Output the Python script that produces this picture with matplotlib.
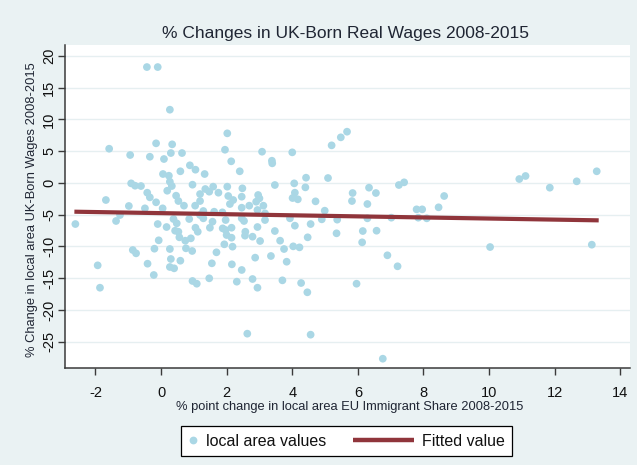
import matplotlib
matplotlib.use("Agg")
import matplotlib.pyplot as plt
from matplotlib.lines import Line2D
from matplotlib.legend_handler import HandlerBase

# ---------------- data ----------------
title = "% Changes in UK-Born Real Wages 2008-2015"
xlabel = "% point change in local area EU Immigrant Share 2008-2015"
ylabel = "% Change in local area UK-Born Wages 2008-2015"
legend_labels = ["local area values", "Fitted value"]
xticks = [-2, 0, 2, 4, 6, 8, 10, 12, 14]
yticks = [-25, -20, -15, -10, -5, 0, 5, 10, 15, 20]

eu_share_change = [
    -0.43, -0.10, 0.27, -1.58, -0.94, -0.15, 0.34, -0.34, 0.09, 0.30, 0.64, 2.02, 1.95, 2.14,
    2.40, 0.88, 1.05, 0.59, 1.33, 0.06, 0.24, 0.27, 0.33, 0.19, -0.91, -0.79, -0.61, -0.42,
    -0.34, -0.15, -1.68, -0.98, -0.49, 0.05, 0.46, 0.53, 0.70, 0.96, 1.04, 1.19, 1.19, 1.35,
    1.59, 1.75, 1.47, 2.02, 2.48, 2.05, 2.20, 2.10, 2.46, 2.69,
    3.08, 4.00, 3.38, 3.39, 5.20, 5.48, 5.67, 3.47, 4.06, 4.42, 4.40, 5.09, 4.08, 4.01, 4.17,
    4.71, 2.96, 3.00, 2.90, 3.12, 5.84, 5.82, 6.34, 6.55, 6.29, 7.25, 7.41, 7.79, 7.96, 8.46,
    8.63, 4.99,
    10.92, 11.11, 11.85, 12.67, 13.28,
    1.29, 1.62, 1.87, 2.46, -2.61, -1.37, -1.25, 0.38, 0.86, 0.48, -0.10, 1.19, 1.29, 1.57,
    1.97, 2.46, 2.53, 0.17, 1.05, 1.12, 1.49, 1.88, 1.97, 2.15, 0.43, 0.53, 2.00, 2.15, 2.57,
    2.56, 0.56, 0.91, 0.74, -0.07, 2.79, -0.20, 0.27, 0.76, 0.95, -0.86, -0.76, 1.69, 1.93,
    2.18, 2.87, -0.41, 0.30, 0.59, 1.55, 2.16, 2.46, 0.27, 0.40, -0.22, 0.96, 1.09, 1.47,
    2.31, 2.79, -1.86, -1.93, 2.63,
    2.94, 3.17, 3.17, 2.94, 3.02, 2.94, 3.47, 3.63, 3.75, 3.35, 3.83, 4.03, 4.22, 3.70, 4.27,
    4.46, 4.56, 3.93, 4.08, 4.56, 4.47, 4.90, 5.37, 5.35, 5.96, 6.15, 6.13, 6.29, 6.57, 6.90,
    7.21, 7.02, 6.76, 7.84, 8.10,
    10.03, 13.13,
]
wage_change = [
    18.23, 18.23, 11.52, 5.38, 4.39, 6.23, 6.07, 4.12, 3.76, 4.70, 4.70, 7.80, 5.22, 3.40,
    1.83, 2.77, 2.08, 1.83, 1.40, 1.40, 1.13, 0.19, -0.49, -1.23, -0.07, -0.44, -0.49, -1.54,
    -2.27, -3.05, -2.69, -3.63, -4.00, -4.00, -2.01, -2.85, -3.58, -0.28, -3.58, -1.75, -2.85, -0.96,
    -0.59, -1.54, -1.38, -0.59, -0.85, -2.06, -2.69, -3.32, -2.17, -3.58,
    4.91, 4.81, 3.49, 3.08, 5.91, 7.17, 8.06, -0.33, -0.07, 0.82, -0.70, 0.77, -1.54, -2.38, -2.58,
    -2.90, -1.90, -2.43, -2.96, -3.58, -1.59, -2.85, -0.75, -1.59, -3.32, -0.33, 0.09, -4.16, -4.16, -3.84,
    -2.06, -4.37,
    0.61, 1.09, -0.75, 0.25, 1.83,
    -4.42, -4.53, -4.63, -3.90, -6.47, -5.99, -5.05, -5.68, -5.68, -6.36, -6.47, -5.05, -5.57, -6.10,
    -5.84, -5.57, -5.99, -6.94, -7.05, -7.68, -7.05, -7.15, -7.41, -7.05, -7.52, -7.68, -8.20, -8.62, -7.68,
    -8.30, -8.56, -8.72, -9.09, -9.03, -8.46, -10.35, -10.40, -10.29, -10.71, -10.56, -11.08, -10.92, -9.66,
    -10.03, -11.76, -12.71, -11.97, -12.24, -12.65, -12.81, -13.70, -13.23, -13.44, -14.49, -15.43, -15.86, -15.01,
    -15.54, -15.12, -16.49, -12.97, -23.72,
    -4.26, -4.79, -5.84, -6.94, -9.14, -16.49, -7.57, -9.09, -10.40, -11.50, -12.40, -9.98, -10.14, -15.33, -15.75,
    -17.21, -23.88, -5.57, -6.73, -6.47, -8.56, -5.73, -5.78, -7.93, -15.86, -7.57, -9.35, -5.57, -7.52, -11.39,
    -13.12, -5.47, -27.66, -5.47, -5.57,
    -10.09, -9.72,
]
fit_x = [-2.64, 13.34]
fit_y = [-4.53, -5.89]

# ---------------- style ----------------
BG = "#EAF2F3"
GRID = "#E6EFF1"
DOT = "#AAD7E5"
FIT = "#90353B"
TXT = "#1f2533"
FONT = ["Liberation Sans", "DejaVu Sans"]
plt.rcParams["font.family"] = FONT

W, H = 637, 465
fig = plt.figure(figsize=(W / 100, H / 100), dpi=100, facecolor=BG)
L, R, T, B = 65, 630, 45, 368.3
ax = fig.add_axes([L / W, 1 - B / H, (R - L) / W, (B - T) / H])
ax.set_facecolor("white")

ax.scatter(eu_share_change, wage_change, s=31, color=DOT, edgecolors="none", zorder=3)
ax.plot(fit_x, fit_y, color=FIT, lw=3.0, solid_capstyle="butt", zorder=4)

ax.set_xlim(-2.926, 14.294)
ax.set_ylim(-29.17, 21.70)
ax.set_xticks(xticks)
ax.set_yticks(yticks)
ax.set_xticklabels([str(v) for v in xticks])
ax.set_yticklabels([str(v) for v in yticks])

ax.yaxis.grid(True, color=GRID, lw=1.0, zorder=0)
ax.set_axisbelow(True)
for s in ["top", "right"]:
    ax.spines[s].set_visible(False)
for s in ["left", "bottom"]:
    ax.spines[s].set_color("#3a3a3a")
    ax.spines[s].set_linewidth(1.1)
ax.tick_params(axis="both", direction="out", length=5, width=1.0, color="#3a3a3a",
               labelsize=10.5, labelcolor="#111111")
ax.tick_params(axis="x", pad=8.0)
ax.tick_params(axis="y", pad=1.5)
for lab in ax.get_yticklabels():
    lab.set_rotation(90)
    lab.set_va("center")

ax.set_title(title, fontsize=12.5, color=TXT, x=0.497, y=1.0207, pad=0, va="baseline")
ax.set_xlabel(xlabel, fontsize=9.3, color=TXT)
ax.xaxis.set_label_coords(0.504, -0.101)
ax.set_ylabel(ylabel, fontsize=9.3, color=TXT)
ax.yaxis.set_label_coords(-0.047, 0.49)


class LongLineHandler(HandlerBase):
    def create_artists(self, legend, orig_handle, xdescent, ydescent, width, height, fontsize, trans):
        y = height / 2 - ydescent
        x1 = width - xdescent
        x0 = x1 - 3.8 * fontsize
        ln = Line2D([x0, x1], [y, y], color=orig_handle.get_color(), lw=orig_handle.get_linewidth(),
                    solid_capstyle="butt", transform=trans)
        return [ln]


h_dot = Line2D([], [], marker="o", linestyle="none", markersize=5.6, markerfacecolor=DOT,
               markeredgecolor="none")
h_fit = Line2D([], [], color=FIT, lw=3.2)
leg = fig.legend([h_dot, h_fit], legend_labels, loc="center",
                 bbox_to_anchor=(346.5 / W, 1 - 441 / H), ncol=2, fontsize=11.5,
                 handlelength=0.6, handletextpad=0.5, columnspacing=4.9, borderpad=0.45,
                 fancybox=False, frameon=True, handler_map={h_fit: LongLineHandler()})
leg.get_frame().set_edgecolor("black")
leg.get_frame().set_linewidth(0.9)
leg.get_frame().set_facecolor("white")
leg.get_frame().set_alpha(1)
for t in leg.get_texts():
    t.set_color("#111111")

fig.savefig("out.png", dpi=100, facecolor=BG)
